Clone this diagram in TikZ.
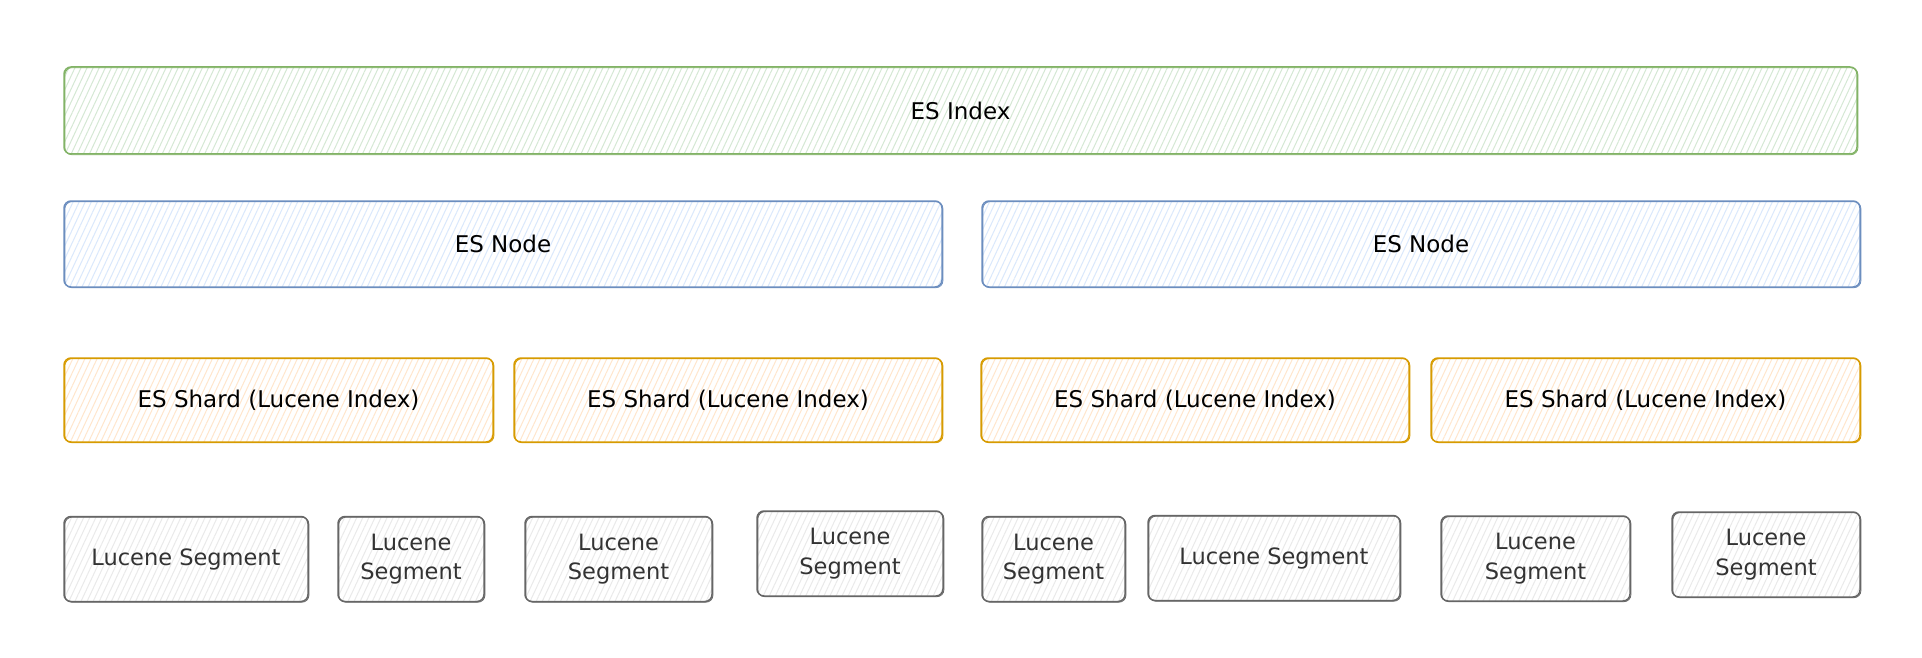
\documentclass[tikz,border=0pt]{standalone}
\usepackage{fontspec}
\setmainfont{DejaVu Sans}
\usetikzlibrary{patterns.meta}
\definecolor{idxline}{HTML}{82B366}
\definecolor{idxfill}{HTML}{D5E8D4}
\definecolor{nodeline}{HTML}{6C8EBF}
\definecolor{nodefill}{HTML}{DAE8FC}
\definecolor{shardline}{HTML}{D79B00}
\definecolor{shardfill}{HTML}{FFE6CC}
\definecolor{segline}{HTML}{666666}
\definecolor{segfill}{HTML}{EAEAEA}
\definecolor{segtext}{HTML}{333333}
\tikzset{
  sketch/.style={draw, rounded corners=7pt, line width=1.5pt, inner sep=0pt,
    align=center, font=\fontsize{23}{29}\selectfont,
    postaction={draw, line width=0.8pt, rounded corners=9pt,
      transform canvas={shift={(0.9pt,-0.7pt)}}}},
  hatch/.style={fill=#1!35, pattern color=#1,
    pattern={Lines[angle=65,distance=5.5pt,line width=1pt]}},
  esindex/.style={sketch, draw=idxline, hatch=idxfill, text=black},
  esnode/.style={sketch, draw=nodeline, hatch=nodefill, text=black},
  esshard/.style={sketch, draw=shardline, hatch=shardfill, text=black,
    minimum height=84pt},
  lseg/.style={sketch, draw=segline, hatch=segfill, text=segtext,
    font=\fontsize{22.5}{29.5}\selectfont, minimum height=85pt}
}
\begin{document}
\begin{tikzpicture}[x=1pt,y=-1pt]
\useasboundingbox[fill=white] (0,0) rectangle (1922,658);
% index
\node[esindex, minimum width=1793pt, minimum height=87pt] (idx) at (960.5,110.5) {ES Index};
% nodes
\node[esnode, minimum width=878pt, minimum height=86pt] (esn1) at (503,244) {ES Node};
\node[esnode, minimum width=878pt, minimum height=86pt] (esn2) at (1421,244) {ES Node};
% shards
\node[esshard, minimum width=429pt] (sh1) at (278.5,400) {ES Shard (Lucene Index)};
\node[esshard, minimum width=428pt] (sh2) at (728,400) {ES Shard (Lucene Index)};
\node[esshard, minimum width=428pt] (sh3) at (1195,400) {ES Shard (Lucene Index)};
\node[esshard, minimum width=429pt] (sh4) at (1645.5,400) {ES Shard (Lucene Index)};
% segments
\node[lseg, minimum width=244pt] (seg1) at (186,559) {Lucene Segment};
\node[lseg, minimum width=146pt] (seg2) at (411,559) {Lucene\\Segment};
\node[lseg, minimum width=187pt] (seg3) at (618.5,559) {Lucene\\Segment};
\node[lseg, minimum width=186pt] (seg4) at (850,553.5) {Lucene\\Segment};
\node[lseg, minimum width=143pt] (seg5) at (1053.5,559) {Lucene\\Segment};
\node[lseg, minimum width=252pt] (seg6) at (1274,558) {Lucene Segment};
\node[lseg, minimum width=189pt] (seg7) at (1535.5,558.5) {Lucene\\Segment};
\node[lseg, minimum width=188pt] (seg8) at (1766,554.5) {Lucene\\Segment};
\end{tikzpicture}
\end{document}
